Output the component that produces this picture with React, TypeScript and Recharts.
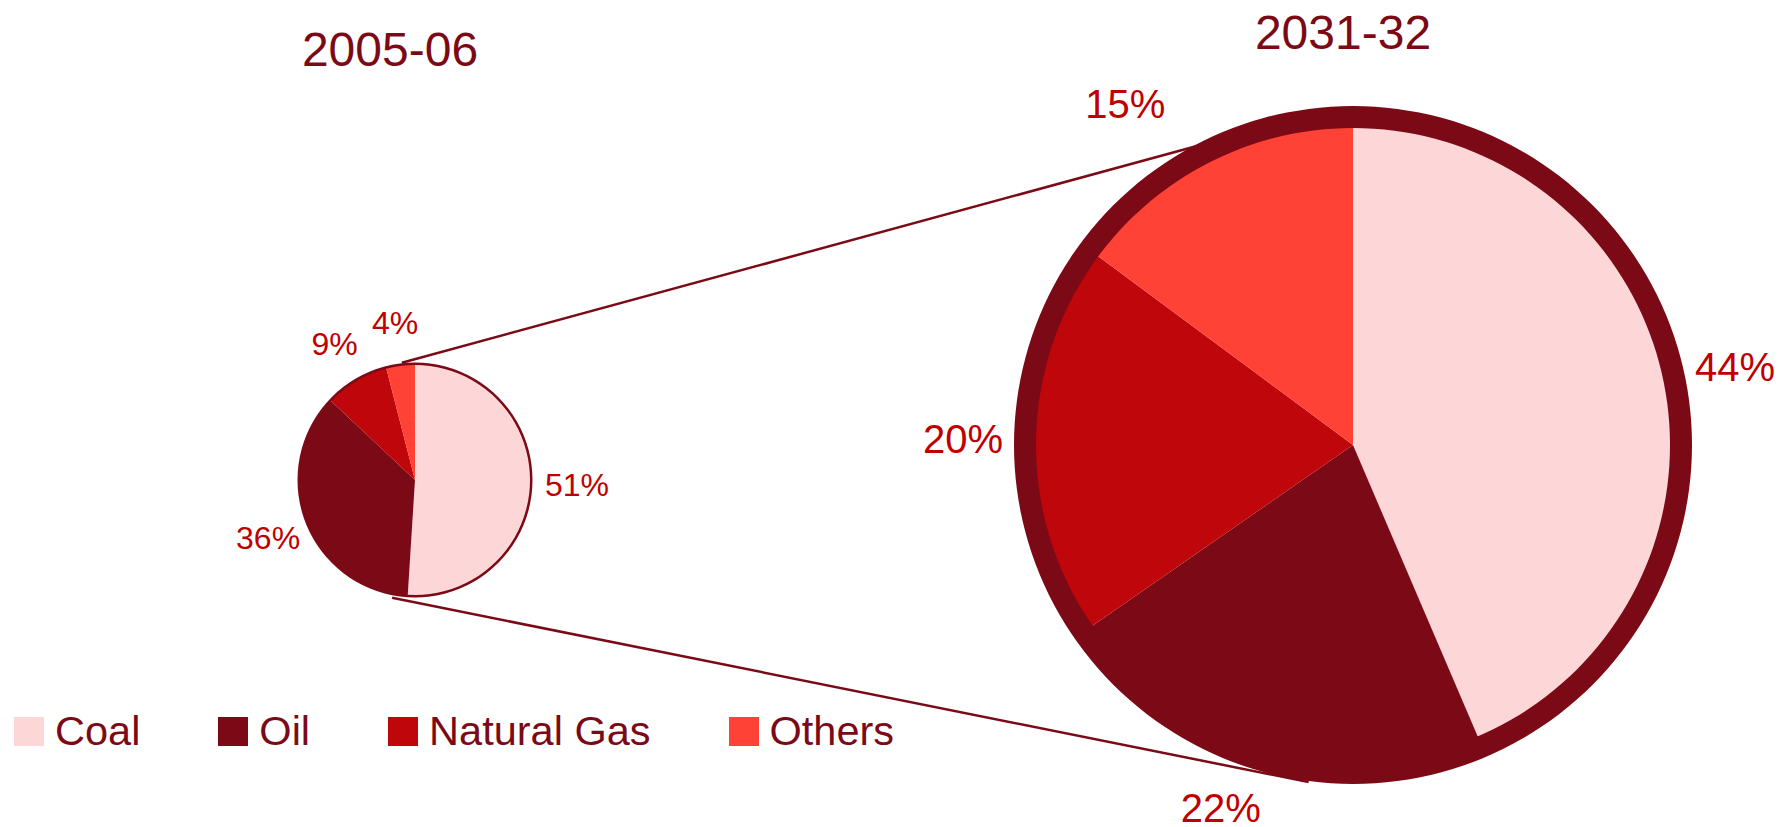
import React from 'react';
import { PieChart, Pie, Cell, Legend } from 'recharts';

const CATEGORIES = ['Coal', 'Oil', 'Natural Gas', 'Others'];
const SHARE_2005_06 = [51, 36, 9, 4];
const SHARE_2031_32 = [44, 22, 20, 15];
const YEARS = ['2005-06', '2031-32'];
const COLORS = ['#FDD7D7', '#7B0A16', '#BE060B', '#FF4136'];

const DARK = '#7B0A16';
const LABEL_RED = '#C00000';
const FONT = '"Liberation Sans", Arial, Helvetica, sans-serif';

const W = 1787;
const H = 827;

const SMALL = { cx: 415, cy: 480, r: 116 };
const BIG = { cx: 1353, cy: 445, r: 318, ring: 21 };

const smallData = CATEGORIES.map((name, i) => ({ name, value: SHARE_2005_06[i] }));
const bigData = CATEGORIES.map((name, i) => ({ name, value: SHARE_2031_32[i] }));
const ringData = [{ name: 'ring', value: 1 }];

const RAD = Math.PI / 180;
const polar = (cx: number, cy: number, r: number, deg: number) => ({
  x: cx + r * Math.cos(deg * RAD),
  y: cy - r * Math.sin(deg * RAD),
});

// per-label nudges (style only)
const SMALL_LABEL_RADIUS_NUDGE = [4, 0, 0, 0];
const BIG_LABEL_ANGLE_NUDGE = [0, -4, 0, 7];
const BIG_LABEL_RADIUS_NUDGE = [0, -4, 0, 20];

const makeLabel = (
  extra: number,
  fontSize: number,
  angleNudge: number[] = [0, 0, 0, 0],
  radiusNudge: number[] = [0, 0, 0, 0]
) => (props: any) => {
  const { cx, cy, midAngle, outerRadius, value, index } = props;
  const p = polar(cx, cy, outerRadius + extra + radiusNudge[index], midAngle + angleNudge[index]);
  return (
    <text
      x={p.x}
      y={p.y}
      fill={LABEL_RED}
      fontSize={fontSize}
      fontFamily={FONT}
      textAnchor="middle"
      dominantBaseline="central"
    >
      {`${value}%`}
    </text>
  );
};

const Connectors = () => {
  const a1 = polar(SMALL.cx, SMALL.cy, SMALL.r + 2, 96.4);
  const b1 = polar(BIG.cx, BIG.cy, BIG.r + 12, 108.5);
  const a2 = polar(SMALL.cx, SMALL.cy, SMALL.r + 4, -101);
  const b2 = polar(BIG.cx, BIG.cy, BIG.r + 22, -97.5);
  return (
    <g>
      <line x1={a1.x} y1={a1.y} x2={b1.x} y2={b1.y} stroke={DARK} strokeWidth={2.5} />
      <line x1={a2.x} y1={a2.y} x2={b2.x} y2={b2.y} stroke={DARK} strokeWidth={2.5} />
    </g>
  );
};

const Titles = () => (
  <g>
    <text x={390} y={66} fill={DARK} fontSize={48} fontFamily={FONT} textAnchor="middle">
      {YEARS[0]}
    </text>
    <text x={1343} y={49} fill={DARK} fontSize={48} fontFamily={FONT} textAnchor="middle">
      {YEARS[1]}
    </text>
  </g>
);

const LegendContent = () => (
  <div style={{ display: 'flex', alignItems: 'center', fontFamily: FONT }}>
    {CATEGORIES.map((c, i) => (
      <div key={c} style={{ display: 'flex', alignItems: 'center', marginRight: 78 }}>
        <div style={{ width: 30, height: 29, background: COLORS[i], marginRight: 11 }} />
        <span style={{ fontSize: 41.5, color: DARK, lineHeight: '46px' }}>{c}</span>
      </div>
    ))}
  </div>
);

export default function App() {
  return (
    <div style={{ position: 'absolute', left: 0, top: 0, width: W, height: H, background: '#fff' }}>
      <PieChart width={W} height={H} margin={{ top: 0, right: 0, bottom: 0, left: 0 }}>
        <Connectors />
        <Titles />
        <Pie
          data={smallData}
          dataKey="value"
          nameKey="name"
          cx={SMALL.cx}
          cy={SMALL.cy}
          outerRadius={SMALL.r}
          startAngle={90}
          endAngle={-270}
          stroke="none"
          isAnimationActive={false}
          labelLine={false}
          label={makeLabel(42, 32, [0, 0, 0, 0], SMALL_LABEL_RADIUS_NUDGE)}
        >
          {smallData.map((d, i) => (
            <Cell key={d.name} fill={COLORS[i]} />
          ))}
        </Pie>
        <Pie
          data={ringData}
          dataKey="value"
          cx={SMALL.cx}
          cy={SMALL.cy}
          innerRadius={SMALL.r - 1}
          outerRadius={SMALL.r + 1.5}
          startAngle={90}
          endAngle={-270}
          stroke="none"
          fill={DARK}
          legendType="none"
          isAnimationActive={false}
        />
        <Pie
          data={bigData}
          dataKey="value"
          nameKey="name"
          cx={BIG.cx}
          cy={BIG.cy}
          outerRadius={BIG.r}
          startAngle={90}
          endAngle={-270}
          stroke="none"
          isAnimationActive={false}
          labelLine={false}
          label={makeLabel(72, 40, BIG_LABEL_ANGLE_NUDGE, BIG_LABEL_RADIUS_NUDGE)}
        >
          {bigData.map((d, i) => (
            <Cell key={d.name} fill={COLORS[i]} />
          ))}
        </Pie>
        <Pie
          data={ringData}
          dataKey="value"
          cx={BIG.cx}
          cy={BIG.cy}
          innerRadius={BIG.r - 1}
          outerRadius={BIG.r + BIG.ring}
          startAngle={90}
          endAngle={-270}
          stroke="none"
          fill={DARK}
          legendType="none"
          isAnimationActive={false}
        />
        <Legend
          content={<LegendContent />}
          wrapperStyle={{ position: 'absolute', left: 14, top: 708, width: 'auto', bottom: 'auto' }}
        />
      </PieChart>
    </div>
  );
}
